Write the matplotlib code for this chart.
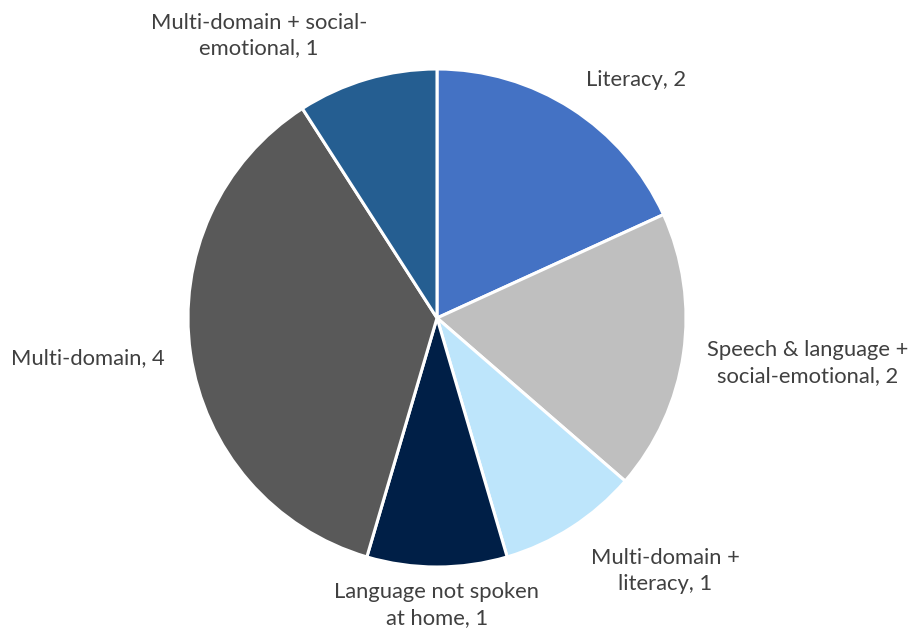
import matplotlib.pyplot as plt

# Category counts, clockwise from 12 o'clock
labels = [
    "Literacy",
    "Speech & language +\nsocial-emotional",
    "Multi-domain +\nliteracy",
    "Language not spoken\nat home",
    "Multi-domain",
    "Multi-domain + social-\nemotional",
]
counts = [2, 2, 1, 1, 4, 1]
colors = ["#4472C4", "#BFBFBF", "#BDE5FB", "#001F47", "#595959", "#255E91"]

# label anchor points, in units of the pie radius
label_pos = [(0.80, 0.956), (1.49, -0.181), (0.916, -1.016),
             (0.0, -1.153), (-1.402, -0.161), (-0.715, 1.133)]

plt.rcParams['font.family'] = ['Lato', 'DejaVu Sans']

fig = plt.figure(figsize=(9.12, 6.33), dpi=100)
cx, cy, r = 437, 318, 249
ax = fig.add_axes([(cx - r) / 912, (633 - cy - r) / 633, 2 * r / 912, 2 * r / 633])

ax.pie(counts, colors=colors, startangle=90, counterclock=False, radius=1,
       wedgeprops=dict(edgecolor="white", linewidth=2.2))
ax.set_xlim(-1, 1)
ax.set_ylim(-1, 1)
ax.set_aspect("equal")
ax.axis("off")

for lab, n, (x, y) in zip(labels, counts, label_pos):
    ax.text(x, y, f"{lab}, {n}", ha="center", va="center", fontsize=15.8,
            color="#404040", linespacing=1.33, clip_on=False)

fig.savefig("out.png", dpi=100)
